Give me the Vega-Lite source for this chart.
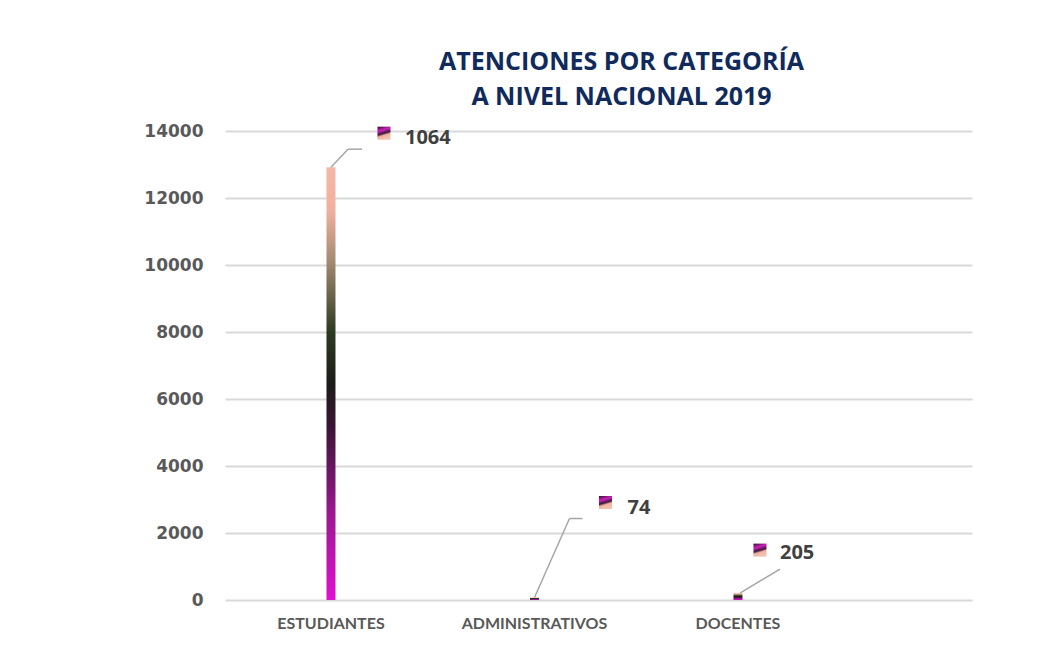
{
  "$schema": "https://vega.github.io/schema/vega-lite/v6.json",
  "width": 747,
  "height": 469,
  "autosize": "none",
  "padding": {"left": 225, "top": 131, "right": 88, "bottom": 62},
  "background": "white",
  "title": {
    "text": ["ATENCIONES POR CATEGORÍA", "A NIVEL NACIONAL 2019"],
    "font": "Open Sans",
    "fontSize": 25,
    "fontWeight": "bold",
    "color": "#102a5c",
    "anchor": "middle",
    "dx": 23,
    "offset": 12,
    "lineHeight": 35
  },
  "config": {
    "view": {"stroke": null},
    "axis": {"labelFont": "DejaVu Sans", "labelColor": "#595959", "labelFontWeight": "bold"}
  },
  "data": {
    "values": [
      {"categoria": "ESTUDIANTES", "atenciones": 12920, "label": "1064"},
      {"categoria": "ADMINISTRATIVOS", "atenciones": 74, "label": "74"},
      {"categoria": "DOCENTES", "atenciones": 205, "label": "205"}
    ]
  },
  "encoding": {
    "x": {
      "field": "categoria",
      "type": "nominal",
      "sort": null,
      "scale": {"paddingInner": 0, "paddingOuter": 0.3354, "align": 0.031},
      "axis": {
        "title": null,
        "labelAngle": 0,
        "labelFont": "Lato",
        "labelFontSize": 16,
        "labelPadding": 15,
        "ticks": false,
        "domain": false,
        "grid": false
      }
    },
    "y": {
      "field": "atenciones",
      "type": "quantitative",
      "scale": {"domain": [0, 14000], "nice": false},
      "axis": {
        "title": null,
        "values": [0, 2000, 4000, 6000, 8000, 10000, 12000, 14000],
        "format": "d",
        "labelFontSize": 17,
        "labelPadding": 22,
        "ticks": false,
        "domain": false,
        "grid": true,
        "gridColor": "#d9d9d9",
        "gridWidth": 2
      }
    }
  },
  "layer": [
    {
      "mark": {
        "type": "bar",
        "size": 9,
        "color": {
          "gradient": "linear",
          "x1": 0, "y1": 1, "x2": 0, "y2": 0,
          "stops": [
            {"offset": 0, "color": "#e010d0"},
            {"offset": 0.2, "color": "#9a1890"},
            {"offset": 0.4, "color": "#3a1535"},
            {"offset": 0.5, "color": "#1c1c18"},
            {"offset": 0.62, "color": "#2e3a22"},
            {"offset": 0.78, "color": "#a08a70"},
            {"offset": 0.9, "color": "#f0b0a0"},
            {"offset": 1, "color": "#f4b8a8"}
          ]
        }
      }
    },
    {
      "transform": [{"filter": "datum.categoria === 'ESTUDIANTES'"}],
      "layer": [
        {
          "mark": {"type": "rule", "color": "#a6a6a6", "strokeWidth": 1.5, "x2Offset": 17, "y2Offset": -18},
          "encoding": {"x2": {"field": "categoria"}, "y2": {"field": "atenciones"}}
        },
        {
          "mark": {"type": "rule", "color": "#a6a6a6", "strokeWidth": 1.5, "xOffset": 17, "yOffset": -18, "x2Offset": 31, "y2Offset": -18},
          "encoding": {"x2": {"field": "categoria"}, "y2": {"field": "atenciones"}}
        },
        {
          "mark": {"type": "square", "size": 170, "opacity": 1, "filled": true, "xOffset": 53, "yOffset": -34,
            "color": {"gradient": "linear", "x1": 0, "y1": 0, "x2": 0.3, "y2": 1,
              "stops": [{"offset": 0, "color": "#2a1028"}, {"offset": 0.35, "color": "#d020c0"}, {"offset": 0.6, "color": "#3a1838"}, {"offset": 0.75, "color": "#f0b0a0"}, {"offset": 1, "color": "#f4c0b0"}]}}
        },
        {
          "mark": {"type": "text", "align": "left", "baseline": "middle", "dx": 74, "dy": -29, "font": "Open Sans", "fontWeight": "bold", "fontSize": 20, "color": "#404040"},
          "encoding": {"text": {"field": "label"}}
        }
      ]
    },
    {
      "transform": [{"filter": "datum.categoria === 'ADMINISTRATIVOS'"}],
      "layer": [
        {
          "mark": {"type": "rule", "color": "#a6a6a6", "strokeWidth": 1.5, "x2Offset": 35, "y2Offset": -79},
          "encoding": {"x2": {"field": "categoria"}, "y2": {"field": "atenciones"}}
        },
        {
          "mark": {"type": "rule", "color": "#a6a6a6", "strokeWidth": 1.5, "xOffset": 35, "yOffset": -79, "x2Offset": 48, "y2Offset": -79},
          "encoding": {"x2": {"field": "categoria"}, "y2": {"field": "atenciones"}}
        },
        {
          "mark": {"type": "square", "size": 170, "opacity": 1, "filled": true, "xOffset": 71, "yOffset": -95,
            "color": {"gradient": "linear", "x1": 0, "y1": 0, "x2": 0.3, "y2": 1,
              "stops": [{"offset": 0, "color": "#2a1028"}, {"offset": 0.35, "color": "#d020c0"}, {"offset": 0.6, "color": "#3a1838"}, {"offset": 0.75, "color": "#f0b0a0"}, {"offset": 1, "color": "#f4c0b0"}]}}
        },
        {
          "mark": {"type": "text", "align": "left", "baseline": "middle", "dx": 93, "dy": -90, "font": "Open Sans", "fontWeight": "bold", "fontSize": 20, "color": "#404040"},
          "encoding": {"text": {"field": "label"}}
        }
      ]
    },
    {
      "transform": [{"filter": "datum.categoria === 'DOCENTES'"}],
      "layer": [
        {
          "mark": {"type": "rule", "color": "#a6a6a6", "strokeWidth": 1.5, "xOffset": 2, "x2Offset": 42, "y2Offset": -24},
          "encoding": {"x2": {"field": "categoria"}, "y2": {"field": "atenciones"}}
        },
        {
          "mark": {"type": "square", "size": 170, "opacity": 1, "filled": true, "xOffset": 22, "yOffset": -43,
            "color": {"gradient": "linear", "x1": 0, "y1": 0, "x2": 0.3, "y2": 1,
              "stops": [{"offset": 0, "color": "#2a1028"}, {"offset": 0.35, "color": "#d020c0"}, {"offset": 0.6, "color": "#3a1838"}, {"offset": 0.75, "color": "#f0b0a0"}, {"offset": 1, "color": "#f4c0b0"}]}}
        },
        {
          "mark": {"type": "text", "align": "left", "baseline": "middle", "dx": 42, "dy": -40, "font": "Open Sans", "fontWeight": "bold", "fontSize": 20, "color": "#404040"},
          "encoding": {"text": {"field": "label"}}
        }
      ]
    }
  ]
}
